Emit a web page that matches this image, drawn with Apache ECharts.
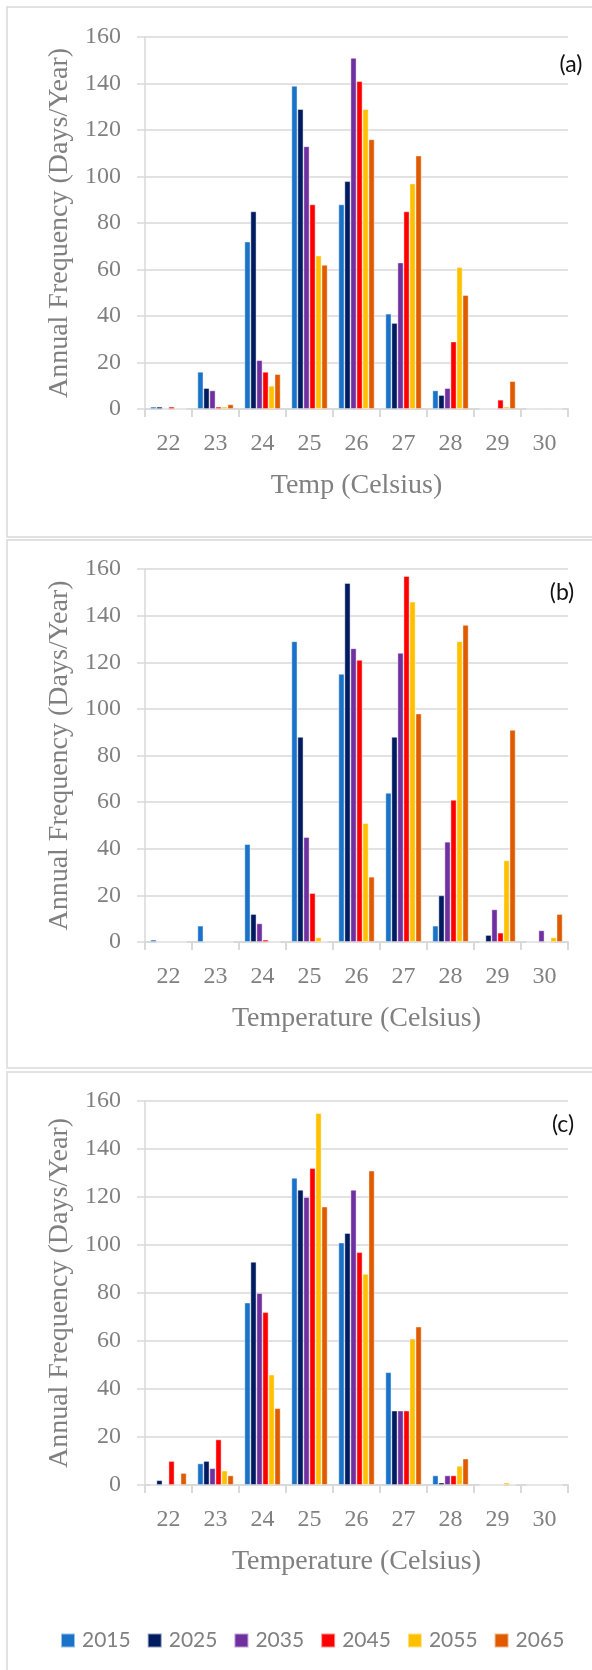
<!DOCTYPE html>
<html>
<head>
<meta charset="utf-8">
<script src="https://cdn.jsdelivr.net/npm/echarts@6.0.0/dist/echarts.min.js"></script>
<style>
  html, body { margin: 0; padding: 0; background: #fff; }
  #main { width: 592px; height: 1670px; }
</style>
</head>
<body>
<div id="main"></div>
<script>
// temperature classes (x axis)
var temps = ['22', '23', '24', '25', '26', '27', '28', '29', '30'];
var years = ['2015', '2025', '2035', '2045', '2055', '2065'];
var yearColors = ['#1a73c9', '#001c60', '#7030a0', '#ff0000', '#ffc000', '#e05a00'];
var yTicks = [0, 20, 40, 60, 80, 100, 120, 140, 160];

// panel (a), one list per year
var a2015 = [1, 16, 72, 139, 88, 41, 8, 0, 0];
var a2025 = [1, 9, 85, 129, 98, 37, 6, 0, 0];
var a2035 = [0, 8, 21, 113, 151, 63, 9, 0, 0];
var a2045 = [1, 1, 16, 88, 141, 85, 29, 4, 0];
var a2055 = [0, 1, 10, 66, 129, 97, 61, 1, 0];
var a2065 = [0, 2, 15, 62, 116, 109, 49, 12, 0];

// panel (b)
var b2015 = [1, 7, 42, 129, 115, 64, 7, 0, 0];
var b2025 = [0, 0, 12, 88, 154, 88, 20, 3, 0];
var b2035 = [0, 0, 8, 45, 126, 124, 43, 14, 5];
var b2045 = [0, 0, 1, 21, 121, 157, 61, 4, 0];
var b2055 = [0, 0, 0, 2, 51, 146, 129, 35, 2];
var b2065 = [0, 0, 0, 0, 28, 98, 136, 91, 12];

// panel (c)
var c2015 = [0, 9, 76, 128, 101, 47, 4, 0, 0];
var c2025 = [2, 10, 93, 123, 105, 31, 1, 0, 0];
var c2035 = [0, 7, 80, 120, 123, 31, 4, 0, 0];
var c2045 = [10, 19, 72, 132, 97, 31, 4, 0, 0];
var c2055 = [0, 6, 46, 155, 88, 61, 8, 1, 0];
var c2065 = [5, 4, 32, 116, 131, 66, 11, 0, 0];

var panelData = [
  [a2015, a2025, a2035, a2045, a2055, a2065],
  [b2015, b2025, b2035, b2045, b2055, b2065],
  [c2015, c2025, c2035, c2045, c2055, c2065]
];
var panelTags = ['(a)', '(b)', '(c)'];
var xNames = ['Temp (Celsius)', 'Temperature (Celsius)', 'Temperature (Celsius)'];
var yName = 'Annual Frequency (Days/Year)';

var gray = '#808080';
var lineGray = '#d9d9d9';
var serif = '"Liberation Serif", "DejaVu Serif", serif';

function createOption() {
  var grids = [
    { left: 145, right: 24, top: 37, height: 372 },
    { left: 145, right: 24, top: 569, height: 373 },
    { left: 145, right: 24, top: 1101, height: 384 }
  ];
  var tagPos = [[571, 65], [562, 593], [563, 1125]];
  var boxes = [[7, 7, 530], [7, 540, 528], [7, 1072, 640]];

  var xAxes = [], yAxes = [], series = [], graphics = [];
  for (var p = 0; p < 3; p++) {
    xAxes.push({
      type: 'category',
      gridIndex: p,
      data: temps,
      name: xNames[p],
      nameLocation: 'middle',
      nameGap: 63,
      nameTextStyle: { color: gray, fontFamily: serif, fontSize: 28 },
      axisLine: { lineStyle: { color: lineGray, width: 2 } },
      axisTick: { show: true, length: 8, lineStyle: { color: lineGray, width: 2 } },
      axisLabel: { color: gray, fontFamily: serif, fontSize: 24, margin: 23 },
      splitLine: { show: false }
    });
    yAxes.push({
      type: 'value',
      gridIndex: p,
      min: yTicks[0],
      max: yTicks[yTicks.length - 1],
      interval: yTicks[1] - yTicks[0],
      name: yName,
      nameLocation: 'middle',
      nameGap: 70,
      nameTextStyle: { color: gray, fontFamily: serif, fontSize: 28 },
      axisLine: { show: true, lineStyle: { color: lineGray, width: 1.5 } },
      axisTick: { show: true, length: 8, lineStyle: { color: lineGray, width: 1.5 } },
      axisLabel: { color: gray, fontFamily: serif, fontSize: 24, margin: 24 },
      splitLine: { lineStyle: { color: lineGray, width: 1.5 } }
    });
    for (var s = 0; s < years.length; s++) {
      series.push({
        name: years[s],
        type: 'bar',
        xAxisIndex: p,
        yAxisIndex: p,
        data: panelData[p][s],
        barGap: '0%',
        barCategoryGap: '23%',
        itemStyle: { color: yearColors[s], borderColor: 'rgba(255,255,255,0.55)', borderWidth: 0.8 }
      });
    }
    graphics.push({
      type: 'rect',
      shape: { x: boxes[p][0], y: boxes[p][1], width: 620, height: boxes[p][2] },
      style: { fill: null, stroke: lineGray, lineWidth: 1.5 },
      silent: true,
      z: -1
    });
    graphics.push({
      type: 'text',
      x: tagPos[p][0],
      y: tagPos[p][1],
      style: {
        text: panelTags[p],
        fill: '#111',
        font: '23px Lato, "Open Sans", sans-serif',
        align: 'center',
        verticalAlign: 'middle'
      }
    });
  }

  var option = {
    animation: false,
    color: yearColors,
    grid: grids,
    xAxis: xAxes,
    yAxis: yAxes,
    legend: {
      data: years,
      left: 55,
      top: 1625,
      itemWidth: 14,
      itemHeight: 14,
      itemGap: 16,
      icon: 'rect',
      textStyle: { color: gray, fontFamily: 'Lato, "Open Sans", sans-serif', fontSize: 21, padding: [0, 0, 0, 2] }
    },
    graphic: graphics,
    series: series
  };
  return option;
}

var myChart = echarts.init(document.getElementById('main'));
myChart.setOption(createOption());
</script>
</body>
</html>
